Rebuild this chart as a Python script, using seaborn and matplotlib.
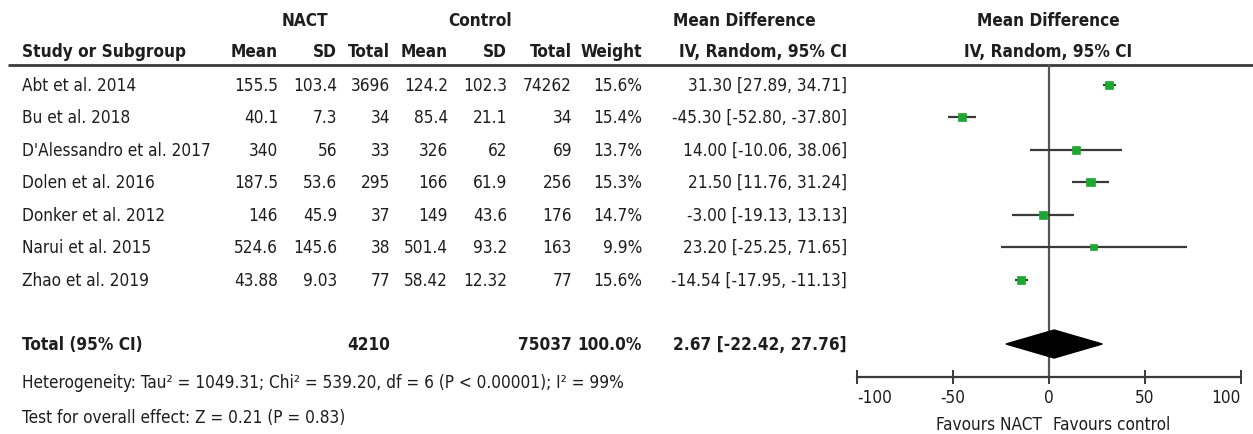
import matplotlib
matplotlib.use("Agg")
import matplotlib.pyplot as plt
import matplotlib.font_manager as fm
import seaborn as sns
import pandas as pd

# ---------------- data ----------------
studies = ["Abt et al. 2014", "Bu et al. 2018", "D'Alessandro et al. 2017",
           "Dolen et al. 2016", "Donker et al. 2012", "Narui et al. 2015",
           "Zhao et al. 2019"]
nact_mean = [155.5, 40.1, 340, 187.5, 146, 524.6, 43.88]
nact_sd = [103.4, 7.3, 56, 53.6, 45.9, 145.6, 9.03]
nact_n = [3696, 34, 33, 295, 37, 38, 77]
ctrl_mean = [124.2, 85.4, 326, 166, 149, 501.4, 58.42]
ctrl_sd = [102.3, 21.1, 62, 61.9, 43.6, 93.2, 12.32]
ctrl_n = [74262, 34, 69, 256, 176, 163, 77]
weight = [15.6, 15.4, 13.7, 15.3, 14.7, 9.9, 15.6]
md = [31.30, -45.30, 14.00, 21.50, -3.00, 23.20, -14.54]
ci_lo = [27.89, -52.80, -10.06, 11.76, -19.13, -25.25, -17.95]
ci_hi = [34.71, -37.80, 38.06, 31.24, 13.13, 71.65, -11.13]

total_nact = 4210
total_ctrl = 75037
total_weight = 100.0
total_md = 2.67
total_lo = -22.42
total_hi = 27.76

heterogeneity = "Heterogeneity: Tau\u00b2 = 1049.31; Chi\u00b2 = 539.20, df = 6 (P < 0.00001); I\u00b2 = 99%"
overall = "Test for overall effect: Z = 0.21 (P = 0.83)"
xticks = [-100, -50, 0, 50, 100]
fav_left = "Favours NACT"
fav_right = "Favours control"

# ---------------- style ----------------
sns.set_theme(style="white")

# look for a condensed face if one is installed
STRETCH = "normal"
FONT = "DejaVu Sans"
cands = [f for f in fm.fontManager.ttflist
         if (str(f.stretch) in ("condensed", "semi-condensed", "extra-condensed")
             or "Condensed" in f.name or "Narrow" in f.name)]
if cands:
    pref = sorted(cands, key=lambda f: (0 if "Sans" in f.name else 1,
                                        0 if str(f.stretch) == "semi-condensed" else 1))
    FONT = pref[0].name
    STRETCH = str(pref[0].stretch)
plt.rcParams["font.family"] = [FONT, "DejaVu Sans"]
plt.rcParams["font.stretch"] = STRETCH
plt.rcParams["axes.unicode_minus"] = False

TXT = "#1e1e1e"
W, H = 1253, 435
fig = plt.figure(figsize=(W / 100, H / 100), dpi=100)
fig.patch.set_facecolor("white")

# calibrate the font size on the reference text widths
r = fig.canvas.get_renderer()
ratios = []
for s, target in [("D'Alessandro et al. 2017", 191),
                  ("Test for overall effect: Z = 0.21 (P = 0.83)", 320)]:
    tt = fig.text(0, 0, s, fontsize=10)
    ratios.append(target / tt.get_window_extent(r).width)
    tt.remove()
FS = min(10 * sum(ratios) / len(ratios), 15.5)

ax = fig.add_axes([0, 0, 1, 1])
ax.set_xlim(0, W)
ax.set_ylim(H, 0)
ax.axis("off")

def t(x, y, s, ha="right", bold=False, size=None):
    ax.text(x, y, s, ha=ha, va="center", fontsize=size or FS, color=TXT,
            fontweight="bold" if bold else "normal")

def fmt(v):
    return str(v)

Y_H1, Y_H2, Y_LINE = 21, 52, 66
t(305, Y_H1, "NACT", ha="center", bold=True)
t(480, Y_H1, "Control", ha="center", bold=True)
t(744, Y_H1, "Mean Difference", ha="center", bold=True)
t(1048, Y_H1, "Mean Difference", ha="center", bold=True)

cols = [278, 337, 390, 448, 507, 572, 642, 847]
t(22, Y_H2, "Study or Subgroup", ha="left", bold=True)
for x, s in zip(cols, ["Mean", "SD", "Total", "Mean", "SD", "Total", "Weight",
                       "IV, Random, 95% CI"]):
    t(x, Y_H2, s, bold=True)
t(1048, Y_H2, "IV, Random, 95% CI", ha="center", bold=True)

ax.plot([8, W], [Y_LINE, Y_LINE], color="#3a3a3a", lw=2, solid_capstyle="butt")

row_y = [86, 118, 151, 183, 216, 248, 281]
for i, y in enumerate(row_y):
    t(22, y, studies[i], ha="left")
    vals = [fmt(nact_mean[i]), fmt(nact_sd[i]), fmt(nact_n[i]),
            fmt(ctrl_mean[i]), fmt(ctrl_sd[i]), fmt(ctrl_n[i]),
            f"{weight[i]:.1f}%",
            f"{md[i]:.2f} [{ci_lo[i]:.2f}, {ci_hi[i]:.2f}]"]
    for x, s in zip(cols, vals):
        t(x, y, s)

Y_TOT = 345
t(22, Y_TOT, "Total (95% CI)", ha="left", bold=True)
t(cols[2], Y_TOT, str(total_nact), bold=True)
t(cols[5], Y_TOT, str(total_ctrl), bold=True)
t(cols[6], Y_TOT, f"{total_weight:.1f}%", bold=True)
t(cols[7], Y_TOT, f"{total_md:.2f} [{total_lo:.2f}, {total_hi:.2f}]", bold=True)
t(22, 383, heterogeneity, ha="left")
t(22, 418, overall, ha="left")

# ---------------- forest axes ----------------
X0, X1 = 857, 1241
fx = fig.add_axes([X0 / W, 0, (X1 - X0) / W, 1])
fx.set_xlim(-100, 100)
fx.set_ylim(H, 0)
fx.patch.set_alpha(0)
for s in ["top", "right", "left"]:
    fx.spines[s].set_visible(False)
Y_AX = 378
fx.spines["bottom"].set_position(("data", Y_AX))
fx.spines["bottom"].set_color("#3a3a3a")
fx.spines["bottom"].set_linewidth(1.6)
fx.set_xticks(xticks)
fx.set_xticklabels([str(v) for v in xticks])
fx.tick_params(axis="x", direction="inout", length=10, width=1.4,
               colors="#3a3a3a", labelcolor=TXT, labelsize=FS, pad=3,
               bottom=True)
labs = fx.get_xticklabels()
labs[0].set_horizontalalignment("left")
labs[-1].set_horizontalalignment("right")
fx.set_yticks([])
fx.grid(False)

fx.plot([0, 0], [Y_LINE, Y_AX], color="#555555", lw=1.6, zorder=1)
fx.hlines(row_y, ci_lo, ci_hi, color="#3a3a3a", lw=1.6, zorder=2)

df = pd.DataFrame({"md": md, "y": row_y, "w": weight})
sns.scatterplot(data=df, x="md", y="y", size="w", sizes=(24, 40),
                marker="s", color="#1fa831", edgecolor="#1fa831",
                linewidth=0.5, legend=False, ax=fx, zorder=3)
fx.set_xlabel("")
fx.set_ylabel("")

dh = 14
fx.fill([total_lo, total_md, total_hi, total_md],
        [Y_TOT, Y_TOT - dh, Y_TOT, Y_TOT + dh], color="black", zorder=4)

ax.text(1042, 425, fav_left, ha="right", va="center", fontsize=FS, color=TXT)
ax.text(1053, 425, fav_right, ha="left", va="center", fontsize=FS, color=TXT)

fig.savefig("out.png", dpi=100, facecolor="white")
